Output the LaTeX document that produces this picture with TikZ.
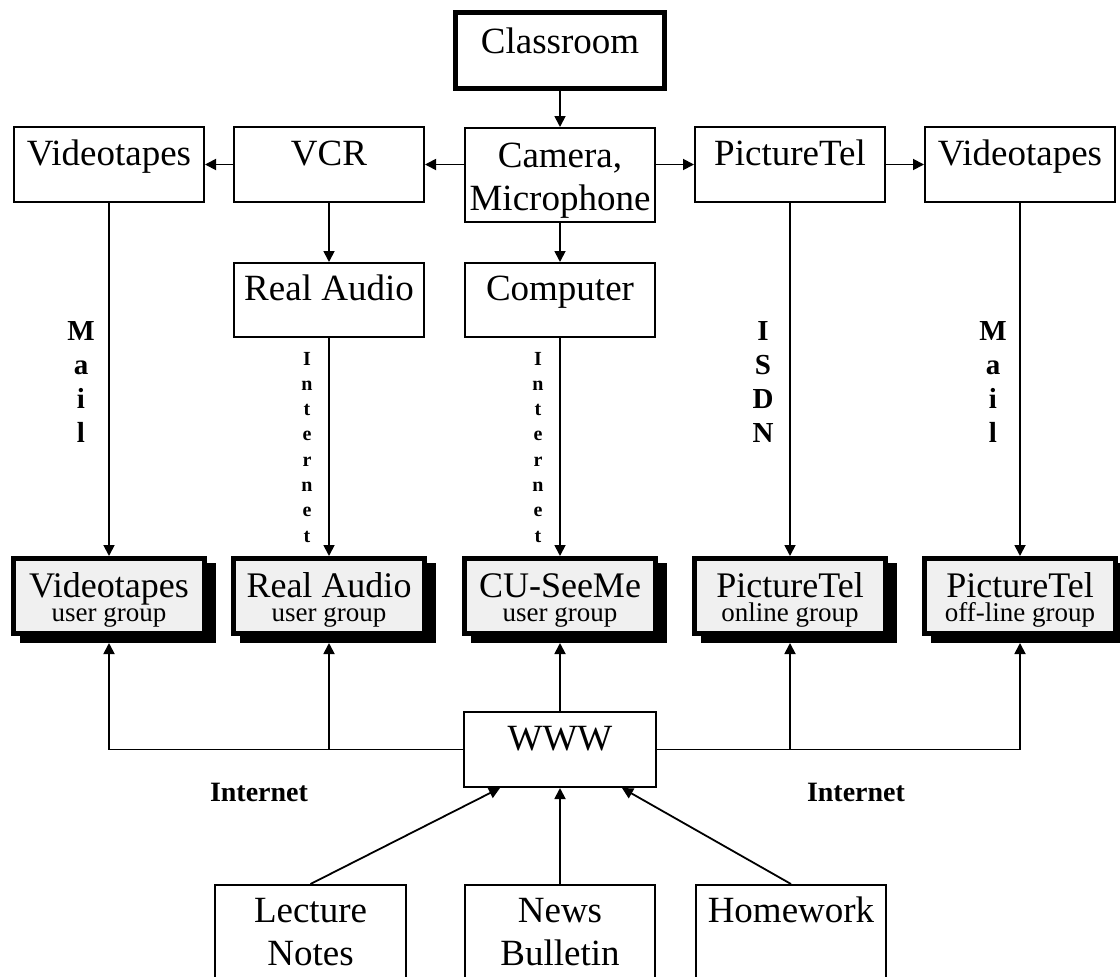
\documentclass[tikz,border=0pt]{standalone}
\usepackage{fontspec}
\setmainfont{Liberation Serif}
\usetikzlibrary{arrows.meta}
\definecolor{ugfill}{gray}{0.94}
\newcommand\stacklines[1]{\vtop{\lineskiplimit=-100pt\halign{\hfil##\hfil\cr#1\crcr}}}
\begin{document}
\begin{tikzpicture}[x=1pt,y=-1pt,
  thinbox/.style={draw, line width=2pt, inner sep=0pt, anchor=north west, font=\fontsize{37}{43}\selectfont},
  thickbox/.style={draw, line width=5pt, inner sep=0pt, anchor=north west, fill=ugfill,
    font=\fontsize{36}{23.5}\selectfont,
    preaction={draw=black, fill=black, transform canvas={xshift=9pt,yshift=-7pt}}},
  conn/.style={line width=1.8pt},
  arr/.style={conn, -{Triangle[length=11pt,width=11pt]}},
  vlab/.style={font=\fontsize{29}{34.3}\selectfont\bfseries, anchor=base, inner sep=0pt},
  ilab/.style={font=\fontsize{20}{25.3}\selectfont\bfseries, anchor=base, inner sep=0pt},
  hlab/.style={font=\fontsize{28}{32}\selectfont\bfseries, anchor=base, inner sep=0pt},
]
\useasboundingbox (0,0) rectangle (1120,977);
% top
\node[thinbox, line width=5pt, minimum width=209pt, text height=40.5pt, text depth=35.5pt] (cls) at (453,10) {Classroom};
\node[thinbox, minimum width=190pt, text height=38pt, text depth=37pt] (vtl) at (13,126) {Videotapes};
\node[thinbox, minimum width=190pt, text height=38pt, text depth=37pt] (vcr) at (233,126) {VCR};
\node[thinbox, minimum width=190pt, text height=39pt, text depth=55pt] (cam) at (464,127) {\stacklines{Camera,\cr Microphone}};
\node[thinbox, minimum width=190pt, text height=38pt, text depth=37pt] (pt) at (694,126) {PictureTel};
\node[thinbox, minimum width=190pt, text height=38pt, text depth=37pt] (vtr) at (924,126) {Videotapes};
\node[thinbox, minimum width=190pt, text height=37pt, text depth=37pt] (ra) at (233,262) {Real Audio};
\node[thinbox, minimum width=190pt, text height=37pt, text depth=37pt] (comp) at (464,262) {Computer};
% user groups
\node[thickbox, minimum width=191pt, text height=39pt, text depth=36pt] (ugvt) at (11,556) {\stacklines{Videotapes\cr\fontsize{27}{23.5}\selectfont user group}};
\node[thickbox, minimum width=191pt, text height=39pt, text depth=36pt] (ugra) at (231,556) {\stacklines{Real Audio\cr\fontsize{27}{23.5}\selectfont user group}};
\node[thickbox, minimum width=191pt, text height=39pt, text depth=36pt] (ugcu) at (462,556) {\stacklines{CU-SeeMe\cr\fontsize{27}{23.5}\selectfont user group}};
\node[thickbox, minimum width=191pt, text height=39pt, text depth=36pt] (ugpto) at (692,556) {\stacklines{PictureTel\cr\fontsize{27}{23.5}\selectfont online group}};
\node[thickbox, minimum width=191pt, text height=39pt, text depth=36pt] (ugptf) at (922,556) {\stacklines{PictureTel\cr\fontsize{27}{23.5}\selectfont off-line group}};
% www and sources
\node[thinbox, minimum width=192pt, text height=38pt, text depth=37pt] (www) at (463,711) {WWW};
\node[thinbox, minimum width=191pt, text height=37pt, text depth=120pt] (lec) at (214,884) {\stacklines{Lecture\cr Notes}};
\node[thinbox, minimum width=190pt, text height=37pt, text depth=120pt] (news) at (464,884) {\stacklines{News\cr Bulletin}};
\node[thinbox, minimum width=190pt, text height=37pt, text depth=120pt] (hw) at (695,884) {Homework};
% connectors top
\draw[arr] (cls.south) -- (cam.north);
\draw[arr] (cam.west |- vcr.east) -- (vcr.east);
\draw[arr] (vcr.west) -- (vtl.east);
\draw[arr] (cam.east |- pt.west) -- (pt.west);
\draw[arr] (pt.east) -- (vtr.west);
\draw[arr] (vcr.south) -- (ra.north);
\draw[arr] (cam.south) -- (comp.north);
% long verticals
\draw[arr] (vtl.south) -- (ugvt.north);
\draw[arr] (ra.south) -- (ugra.north);
\draw[arr] (comp.south) -- (ugcu.north);
\draw[arr] (pt.south) -- (ugpto.north);
\draw[arr] (vtr.south) -- (ugptf.north);
% bus
\draw[arr] (www.west) -| ([yshift=-7pt]ugvt.south);
\draw[arr] (ugra.south |- www.west) -- ([yshift=-7pt]ugra.south);
\draw[arr] (www.north) -- ([yshift=-7pt]ugcu.south);
\draw[arr] (www.east) -| ([yshift=-7pt]ugptf.south);
\draw[arr] (ugpto.south |- www.east) -- ([yshift=-7pt]ugpto.south);
% sources
\draw[arr] (lec.north) -- ([xshift=-60pt]www.south);
\draw[arr] (news.north) -- (www.south);
\draw[arr] (hw.north) -- ([xshift=62pt]www.south);
% labels
\node[vlab] (mailL) at (81,340) {\stacklines{M\cr a\cr i\cr l}};
\node[ilab] (inetRA) at (307,365) {\stacklines{I\cr n\cr t\cr e\cr r\cr n\cr e\cr t}};
\node[ilab] (inetCU) at (538,365) {\stacklines{I\cr n\cr t\cr e\cr r\cr n\cr e\cr t}};
\node[vlab] (isdn) at (763,340) {\stacklines{I\cr S\cr D\cr N}};
\node[vlab] (mailR) at (993,340) {\stacklines{M\cr a\cr i\cr l}};
\node[hlab] (inetL) at (259,801) {Internet};
\node[hlab] (inetR) at (856,801) {Internet};
\end{tikzpicture}
\end{document}
